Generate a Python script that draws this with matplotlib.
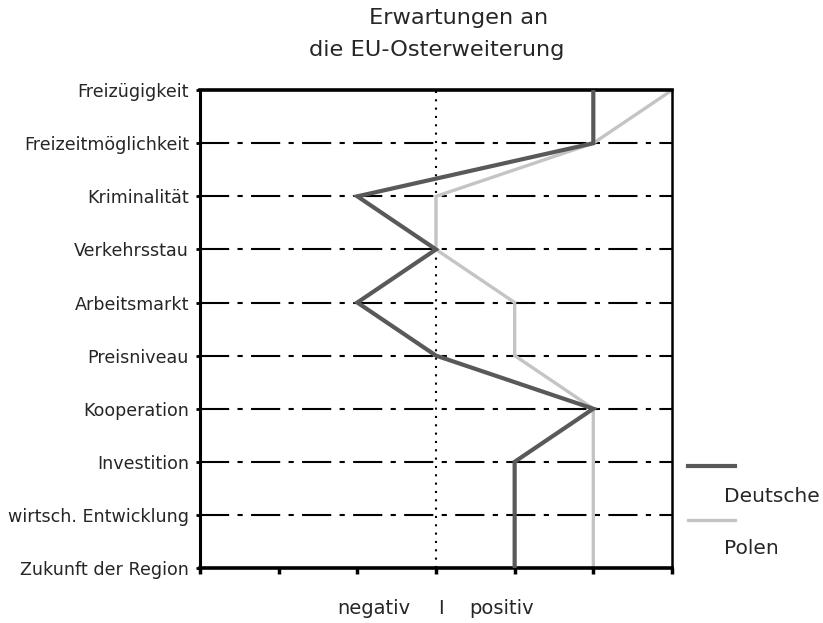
import matplotlib
matplotlib.use('Agg')
from matplotlib import pyplot as plt
from matplotlib.lines import Line2D

plt.rcParams['font.family'] = ['DejaVu Sans']

### Data
categories = ['Freizügigkeit', 'Freizeitmöglichkeit', 'Kriminalität', 'Verkehrsstau',
              'Arbeitsmarkt', 'Preisniveau', 'Kooperation', 'Investition',
              'wirtsch. Entwicklung', 'Zukunft der Region']
deutsche = [5, 5, 2, 3, 2, 3, 5, 4, 4, 4]
polen = [6, 5, 3, 3, 4, 4, 5, 5, 5, 5]
x_ticks = [0, 1, 2, 3, 4, 5, 6]

txt = '#262626'

fig = plt.figure(figsize=(8.23, 6.23), dpi=100)
ax = fig.add_axes([0.243, 0.0883, 0.5735, 0.767])

rows = list(range(len(categories)))

# Dash-dot grid rows (inner rows only)
for r in rows[1:-1]:
        ax.axhline(r, color='black', lw=1.5, linestyle=(0, (14, 4, 2.5, 4)), zorder=1)

# Centre line (neutral)
ax.axvline(3, color='black', lw=1.5, linestyle=(0, (1, 3)), zorder=1)

ax.plot(polen, rows, color='#c4c4c4', lw=2.4, zorder=2, solid_joinstyle='miter')
ax.plot(deutsche, rows, color='#595959', lw=3, zorder=3, solid_joinstyle='miter')

ax.set_xlim(0, 6)
ax.set_ylim(len(categories) - 1, 0)
ax.set_xticks(x_ticks)
ax.set_xticklabels([])
ax.set_yticks(rows)
ax.set_yticklabels(categories, fontsize=12.6, color=txt)

ax.tick_params(axis='x', direction='out', length=4, width=2.5)
ax.tick_params(axis='y', direction='out', length=3, width=2, pad=5)

ax.spines['left'].set_linewidth(2.2)
ax.spines['top'].set_linewidth(2.6)
ax.spines['bottom'].set_linewidth(2.6)
ax.spines['right'].set_linewidth(1.8)

# Title
fig.text(459/823, 1 - 18/623, 'Erwartungen an', ha='center', va='center',
         fontsize=16.2, color=txt)
fig.text(437/823, 1 - 50/623, 'die EU-Osterweiterung', ha='center', va='center',
         fontsize=16.2, color=txt)

# x caption
fig.text(410/823, 1 - 608/623, 'negativ', ha='right', va='center', fontsize=14, color=txt)
fig.text(441/823, 1 - 608/623, 'I', ha='center', va='center', fontsize=14, color=txt)
fig.text(469/823, 1 - 608/623, 'positiv', ha='left', va='center', fontsize=14, color=txt)

# Legend
fig.add_artist(Line2D([688/823, 735/823], [1 - 466/623, 1 - 466/623], color='#595959', lw=3))
fig.text(724/823, 1 - 497/623, 'Deutsche', ha='left', va='center', fontsize=14.5, color=txt)
fig.add_artist(Line2D([688/823, 735/823], [1 - 520/623, 1 - 520/623], color='#c4c4c4', lw=2.4))
fig.text(724/823, 1 - 549/623, 'Polen', ha='left', va='center', fontsize=14.5, color=txt)

plt.savefig('out.png', dpi=100)
